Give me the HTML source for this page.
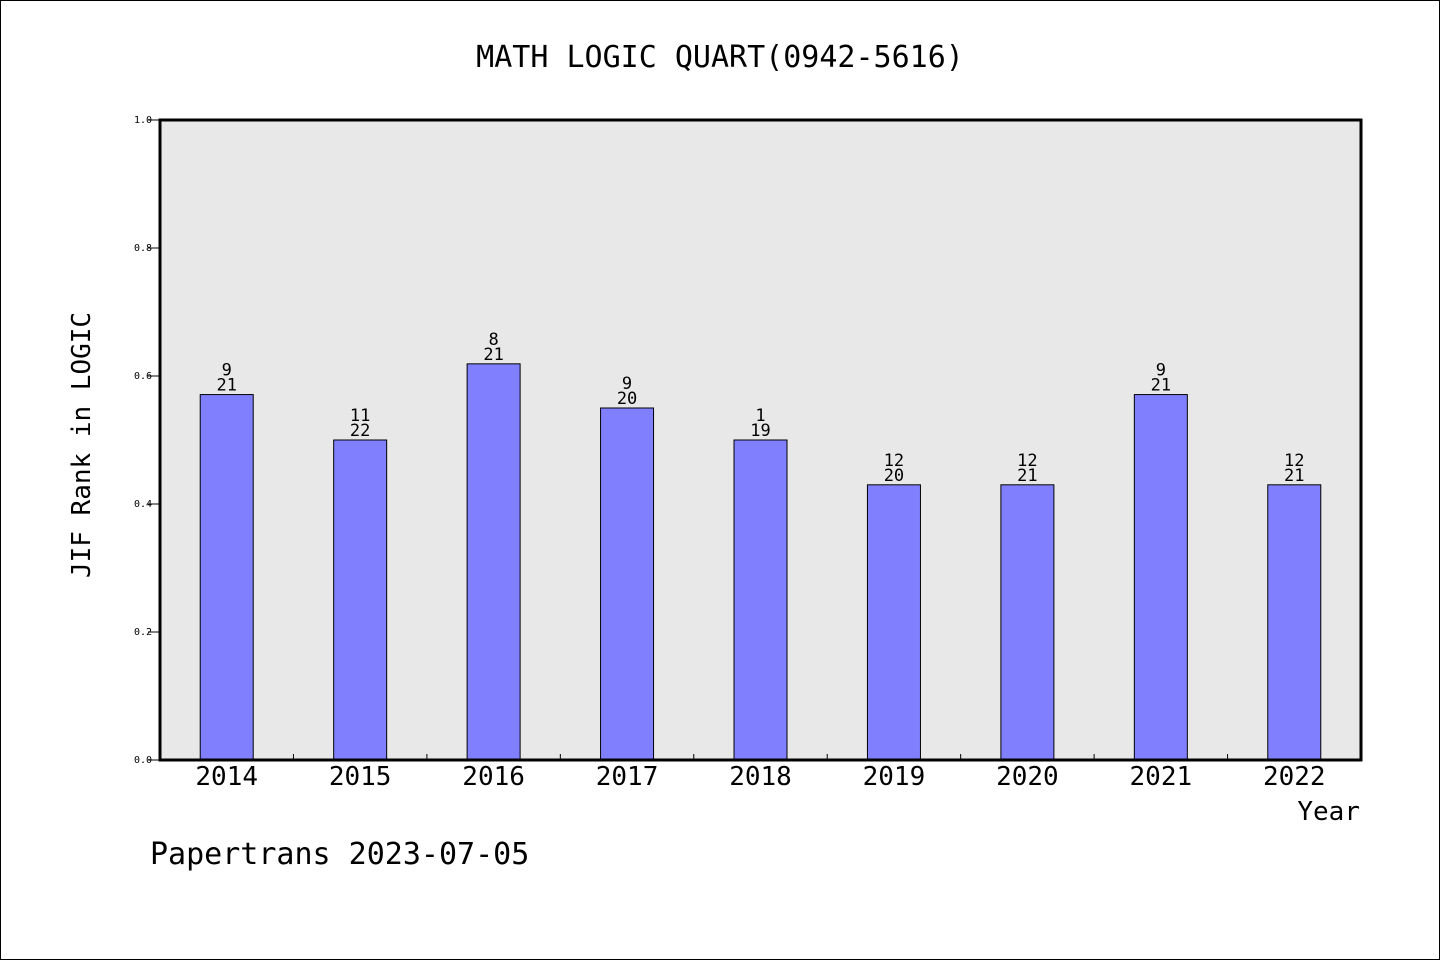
<!DOCTYPE html>
<html><head><meta charset="utf-8"><style>
html,body{margin:0;padding:0;background:#fff}
svg{display:block}
text{font-family:"WenQuanYi Zen Hei","DejaVu Sans Mono",monospace}
</style></head><body>
<svg id="chart" width="1440" height="960" xmlns="http://www.w3.org/2000/svg">
<rect x="0.5" y="0.5" width="1439" height="959" fill="#fff" stroke="#000"/>
<text x="720" y="67" font-size="30" text-anchor="middle">MATH LOGIC QUART(0942-5616)</text>
<rect x="160" y="120" width="1201" height="640" fill="#e8e8e8"/>
<g id="yaxis"></g>
<g id="bars"></g>
<g id="xaxis"></g>
<rect x="160" y="120" width="1201" height="640" fill="none" stroke="#000" stroke-width="3"/>
<text transform="translate(90,445) rotate(-90)" font-size="26" text-anchor="middle">JIF Rank in LOGIC</text>
<text x="1360" y="820" font-size="26" text-anchor="end">Year</text>
<text x="150" y="864" font-size="30">Papertrans 2023-07-05</text>
</svg>
<script>
const years=["2014","2015","2016","2017","2018","2019","2020","2021","2022"];
const values=[0.571,0.5,0.619,0.55,0.5,0.43,0.43,0.571,0.43];
const topLabels=["9","11","8","9","1","12","12","9","12"];
const bottomLabels=["21","22","21","20","19","20","21","21","21"];
const yTicks=["0.0","0.2","0.4","0.6","0.8","1.0"];
const NS="http://www.w3.org/2000/svg";
const X0=160,X1=1361,Y0=760,Y1=120;
const band=(X1-X0)/years.length;
const xc=i=>X0+band*(i+0.5);
const ys=v=>Y0-(Y0-Y1)*v;
function mk(tag,attrs,parent){const e=document.createElementNS(NS,tag);for(const k in attrs)e.setAttribute(k,attrs[k]);parent.appendChild(e);return e;}
const ya=document.getElementById('yaxis'),ba=document.getElementById('bars'),xa=document.getElementById('xaxis');
yTicks.forEach(t=>{const y=ys(parseFloat(t));
const l=mk('line',{x1:148,x2:160,y1:y,y2:y,stroke:'#000'},ya);


const tx=mk('text',{x:152,y:y+3,'font-size':10,'text-anchor':'end'},ya);tx.textContent=t;

});
const bw=53;
years.forEach((yr,i)=>{const c=xc(i),top=ys(values[i]);
const r=mk('rect',{x:c-bw/2,y:top,width:bw,height:Y0-top,fill:'#8080ff',stroke:'#000','stroke-width':1},ba);


const t1=mk('text',{x:c,y:top-19,'font-size':17,'text-anchor':'middle'},ba);t1.textContent=topLabels[i];


const t2=mk('text',{x:c,y:top-4,'font-size':17,'text-anchor':'middle'},ba);t2.textContent=bottomLabels[i];


const xl=mk('text',{x:c,y:785,'font-size':26,'text-anchor':'middle'},xa);xl.textContent=yr;


if(i>0){const tk=mk('line',{x1:X0+band*i,x2:X0+band*i,y1:754,y2:760,stroke:'#000'},xa);

}
});
</script>
</body></html>
